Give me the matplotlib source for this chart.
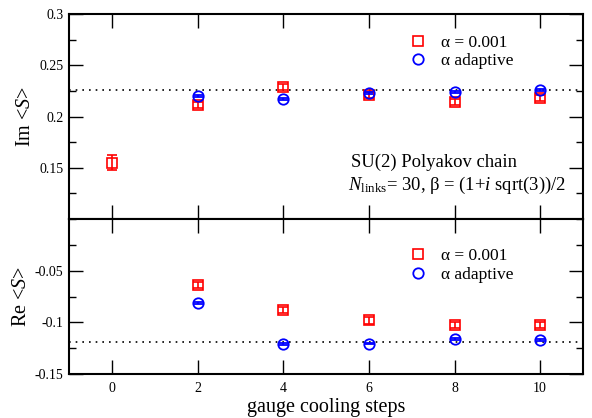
import matplotlib.pyplot as plt
from matplotlib.lines import Line2D
from matplotlib.ticker import MultipleLocator

plt.rcParams['font.family'] = ['Liberation Serif', 'DejaVu Serif']
plt.rcParams['mathtext.fontset'] = 'custom'
plt.rcParams['mathtext.rm'] = 'Liberation Serif'
plt.rcParams['mathtext.it'] = 'Liberation Serif:italic'

# cooling steps
steps_fixed = [0, 2, 4, 6, 8, 10]
steps_adapt = [2, 4, 6, 8, 10]

# Im <S>
im_fixed = [0.155, 0.211, 0.229, 0.221, 0.214, 0.218]
im_fixed_err = [0.007, 0.003, 0.003, 0.003, 0.003, 0.003]
im_adapt = [0.220, 0.217, 0.223, 0.224, 0.226]
im_adapt_err = [0.0008, 0.0008, 0.0008, 0.0008, 0.0008]
im_exact = 0.2256

# Re <S>
re_fixed = [-0.0638, -0.0881, -0.0981, -0.1022, -0.1022]
re_fixed_err = [0.003, 0.003, 0.003, 0.003, 0.003]
re_adapt = [-0.0813, -0.1208, -0.1205, -0.1160, -0.1173]
re_adapt_err = [0.0008, 0.0008, 0.0008, 0.0008, 0.0008]
re_exact = -0.1188

fig = plt.figure(figsize=(5.92, 4.18), dpi=100)
ax1 = fig.add_axes([0.1166, 0.476, 0.8682, 0.4905])
ax2 = fig.add_axes([0.1166, 0.105, 0.8682, 0.371], sharex=ax1)

red_style = dict(fmt='s', mfc='none', mec='red', ecolor='red', ms=6.5, mew=1.2,
                 elinewidth=1.2, capsize=3.5, capthick=1.2)
blue_style = dict(fmt='o', mfc='none', mec='blue', ecolor='blue', ms=7.5, mew=1.3,
                  elinewidth=1.2, capsize=3.5, capthick=1.2)

ax1.errorbar(steps_fixed, im_fixed, yerr=im_fixed_err, **red_style)
ax1.errorbar(steps_adapt, im_adapt, yerr=im_adapt_err, **blue_style)
ax1.axhline(im_exact, color='black', linestyle=(0, (1, 3)), linewidth=1.2, zorder=0)

ax2.errorbar(steps_fixed[1:], re_fixed, yerr=re_fixed_err, **red_style)
ax2.errorbar(steps_adapt, re_adapt, yerr=re_adapt_err, **blue_style)
ax2.axhline(re_exact, color='black', linestyle=(0, (1, 3)), linewidth=1.2, zorder=0)

ax1.set_xlim(-1, 11)
ax1.xaxis.set_major_locator(MultipleLocator(2))
for ax in (ax1, ax2):
    ax.yaxis.set_minor_locator(MultipleLocator(0.025))
    ax.tick_params(which='major', direction='in', length=10, width=1.0,
                   top=True, right=True, labelsize=10, pad=4)
    ax.tick_params(which='minor', direction='in', length=5, width=1.0,
                   left=True, right=True, bottom=False, top=False)
    for sp in ax.spines.values():
        sp.set_linewidth(1.5)
ax2.tick_params(axis='x', pad=6)

ax1.tick_params(labelbottom=False)
ax1.set_yticks([0.15, 0.2, 0.25, 0.3])
ax1.set_yticklabels(['0.15', '0.2', '0.25', '0.3'])
ax1.set_ylim(0.1, 0.3)
ax2.set_yticks([-0.15, -0.1, -0.05])
ax2.set_yticklabels(['-0.15', '-0.1', '-0.05'])
ax2.set_ylim(-0.15, 0.0)
ax2.set_xticks([0, 2, 4, 6, 8, 10])

ax1.set_ylabel(r'Im <$S$>', fontsize=14.5, labelpad=3)
ax2.set_ylabel(r'Re <$S$>', fontsize=14.5, labelpad=3)
ax2.set_xlabel('gauge cooling steps', fontsize=14.5, labelpad=2)

handles = [Line2D([], [], marker='s', ls='none', mfc='none', mec='red', ms=6.5, mew=1.2),
           Line2D([], [], marker='o', ls='none', mfc='none', mec='blue', ms=7.5, mew=1.3)]
labels = ['α = 0.001', 'α adaptive']
leg_kw = dict(frameon=False, fontsize=12.5, handlelength=1.0, handletextpad=0.8,
              labelspacing=0.15, borderpad=0, borderaxespad=0)
ax1.legend(handles, labels, loc='upper left', bbox_to_anchor=(0.663, 0.9), **leg_kw)
ax2.legend(handles, labels, loc='upper left', bbox_to_anchor=(0.663, 0.815), **leg_kw)

ax1.text(0.548, 0.275, 'SU(2) Polyakov chain', transform=ax1.transAxes,
         fontsize=13.4, ha='left', va='center')
ax1.text(0.543, 0.165, r'$N_{\mathrm{links}}$= 30, β = (1+$i$ sqrt(3))/2',
         transform=ax1.transAxes, fontsize=13.4, ha='left', va='center')

fig.savefig('out.png', dpi=100)
